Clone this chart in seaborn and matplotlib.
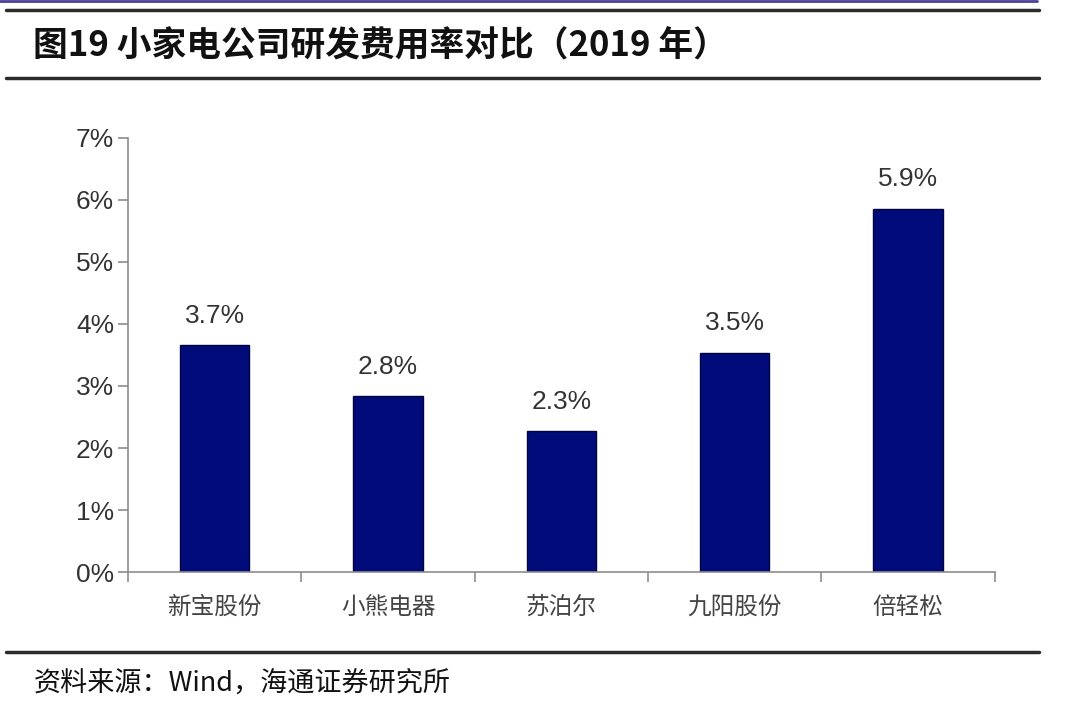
import matplotlib
matplotlib.use("Agg")
import matplotlib.pyplot as plt
import pandas as pd
import seaborn as sns
from matplotlib.lines import Line2D
from matplotlib.ticker import FixedLocator, PercentFormatter

# ---------------- Data ----------------
companies = ["新宝股份", "小熊电器", "苏泊尔", "九阳股份", "倍轻松"]
rd_ratio = [3.66, 2.84, 2.27, 3.54, 5.86]   # %, 2019
y_ticks = [0, 1, 2, 3, 4, 5, 6, 7]

title_text = "图19 小家电公司研发费用率对比（2019 年）"
source_text = "资料来源：Wind，海通证券研究所"

df = pd.DataFrame({"company": companies, "ratio": rd_ratio})

# ---------------- Style ----------------
sns.set_theme(style="white")
plt.rcParams["font.family"] = ["Noto Sans CJK SC", "DejaVu Sans"]

BAR_COLOR = "#010c7a"
AXIS_GRAY = "#8c8c8c"
TEXT_GRAY = "#333333"
NUM_FONT = ["Liberation Sans", "DejaVu Sans"]

fig = plt.figure(figsize=(10.8, 7.09), dpi=100)
ax = fig.add_axes([0.1185, 0.1932, 0.8025, 0.6122])

sns.barplot(data=df, x="company", y="ratio", color=BAR_COLOR,
            width=0.4, edgecolor="#00053d", linewidth=1.0,
            saturation=1, ax=ax)

ax.set_xlim(-0.5, len(companies) - 0.5)
ax.set_ylim(0, 7)
ax.set_xlabel("")
ax.set_ylabel("")

# y axis
ax.yaxis.set_major_locator(FixedLocator(y_ticks))
ax.yaxis.set_major_formatter(PercentFormatter(decimals=0))
ax.tick_params(axis="y", direction="out", length=7, width=1.2,
               color=AXIS_GRAY, labelsize=19, labelcolor=TEXT_GRAY,
               pad=3, left=True)
for lbl in ax.get_yticklabels():
    lbl.set_family(NUM_FONT)

# x axis: labels centered, tick marks at category boundaries
ax.tick_params(axis="x", which="major", length=0, labelsize=17,
               labelcolor="#444444", pad=17)
ax.xaxis.set_minor_locator(FixedLocator([i - 0.5 for i in range(len(companies) + 1)]))
ax.tick_params(axis="x", which="minor", direction="out", length=7,
               width=1.2, color=AXIS_GRAY, bottom=True)

for side in ["top", "right"]:
    ax.spines[side].set_visible(False)
for side in ["left", "bottom"]:
    ax.spines[side].set_color(AXIS_GRAY)
    ax.spines[side].set_linewidth(1.2)

# value labels
for i, v in enumerate(rd_ratio):
    ax.text(i, v + 0.28, f"{v:.1f}%", ha="center", va="bottom",
            fontsize=19, color=TEXT_GRAY, family=NUM_FONT)

# ---------------- Header / footer ----------------
fig.add_artist(Line2D([0.0, 0.96], [0.999, 0.999], color="#4a3f9a", lw=2))
for yy in [1 - 10 / 709, 1 - 78 / 709, 1 - 652 / 709]:
    fig.add_artist(Line2D([0.006, 0.962], [yy, yy], color="#2b2b2b", lw=2.5))

fig.text(0.031, 1 - 46 / 709, title_text, fontsize=25, fontweight="bold",
         color="#111111", va="center", ha="left")
fig.text(0.031, 1 - 684 / 709, source_text, fontsize=19.5,
         color="#111111", va="center", ha="left")

fig.savefig("out.png", dpi=100, facecolor="white")
